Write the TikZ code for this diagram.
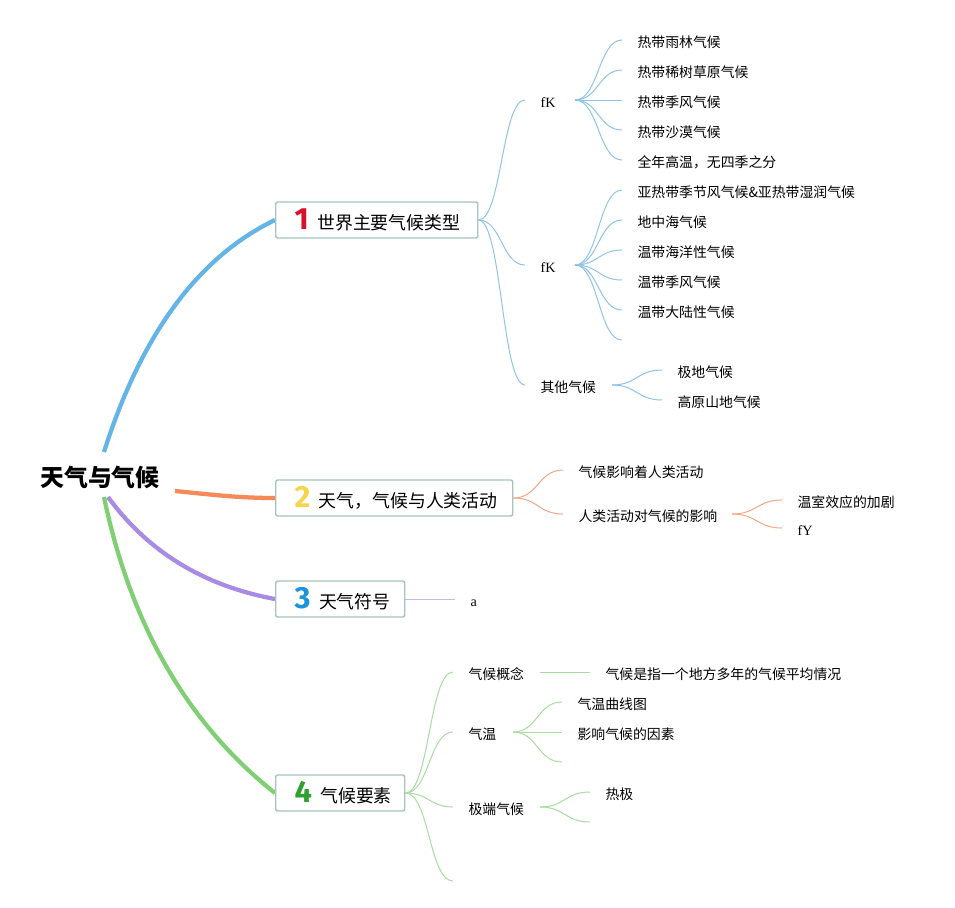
\documentclass[tikz,border=0pt]{standalone}
\usepackage{fontspec}
\setmainfont{Noto Sans CJK SC}
\newfontfamily\latf{Liberation Serif}
\newfontfamily\numf{Fira Sans}
\usetikzlibrary{calc}
\definecolor{cblue}{HTML}{64B5E6}
\definecolor{corange}{HTML}{F5895A}
\definecolor{cpurple}{HTML}{A88BE3}
\definecolor{cgreen}{HTML}{80CF75}
\definecolor{tblue}{HTML}{8FC4EA}
\definecolor{torange}{HTML}{F3A886}
\definecolor{tpurple}{HTML}{C7B7EE}
\definecolor{tgreen}{HTML}{A8DCA0}
\definecolor{dred}{HTML}{D8102A}
\definecolor{dyellow}{HTML}{F7D54A}
\definecolor{dblue}{HTML}{1C94DC}
\definecolor{dgreen}{HTML}{2FA12F}
\definecolor{boxc}{HTML}{A5C6BE}
\newcommand\mydig[2]{\kern2.2pt{\numf\bfseries\fontsize{23pt}{23pt}\selectfont\textcolor{#1}{#2}}\kern6.3pt}
\tikzset{
  sc/.style={to path={.. controls ($(\tikztostart)!0.5!(\tikztostart -| \tikztotarget)$) and ($(\tikztotarget)!0.5!(\tikztotarget -| \tikztostart)$) .. (\tikztotarget)}},
  mainline/.style={line width=3.2pt},
  thinline/.style={line width=0.75pt},
  txt/.style={anchor=west, inner xsep=11.5pt, inner ysep=0pt, text height=10.6pt, text depth=0pt, font=\fontsize{10.4pt}{12pt}\selectfont},
  lat/.style={txt, font=\latf\fontsize{10.6pt}{12pt}\selectfont},
  rootnode/.style={inner sep=0pt, font=\fontsize{17.9pt}{20pt}\selectfont\bfseries},
  mainbox/.style={draw=boxc, line width=1.1pt, rounded corners=1.5pt, fill=white, minimum height=27pt, inner xsep=12pt, inner ysep=0pt, anchor=west, align=left, font=\fontsize{13.4pt}{16pt}\selectfont},
}
\begin{document}
\begin{tikzpicture}[x=0.75pt,y=-0.75pt]
\useasboundingbox[fill=white] (0,0) rectangle (955,907);
% root
\node[rootnode] (root) at (100,477) {天气与气候};
\coordinate (rN) at (104,452);
\coordinate (rE) at (175,491);
\coordinate (rS1) at (104,497);
\coordinate (rS2) at (108,497);
% main branches
\draw[mainline, cblue] (rN) .. controls (141,335) and (198,257) .. (275,220) coordinate (n1a);
\draw[mainline, corange] (rE) .. controls (215,495) and (240,498) .. (275,498) coordinate (n2a);
\draw[mainline, cpurple] (rS2) .. controls (149,553) and (205,586) .. (275,599) coordinate (n3a);
\draw[mainline, cgreen] (rS1) .. controls (131,627) and (189,725) .. (275,793) coordinate (n4a);
% main boxes
\node[mainbox, text width=127.5pt] (n1) at (n1a) {\mydig{dred}{1}世界主要气候类型};
\node[mainbox, text width=153.75pt] (n2) at (n2a) {\mydig{dyellow}{2}天气，气候与人类活动};
\node[mainbox, text width=72.75pt] (n3) at (n3a) {\mydig{dblue}{3}天气符号};
\node[mainbox, text width=72.75pt] (n4) at (n4a) {\mydig{dgreen}{4}气候要素};

% ---- branch 1
\node[lat] (fk1) at (525,100) {fK};
\node[lat] (fk2) at (525,265) {fK};
\node[txt] (qt) at (525,385) {其他气候};
\draw[thinline, tblue] (n1.east) to[sc] (fk1.west);
\draw[thinline, tblue] (n1.east) to[sc] (fk2.west);
\draw[thinline, tblue] (n1.east) to[sc] (qt.west);
\coordinate (fk1o) at (575,100);
\coordinate (fk2o) at (575,265);
\coordinate (qto) at (612,385);
\node[txt] (a1) at (622,40) {热带雨林气候};
\node[txt] (a2) at (622,70) {热带稀树草原气候};
\node[txt] (a3) at (622,100) {热带季风气候};
\node[txt] (a4) at (622,130) {热带沙漠气候};
\node[txt] (a5) at (622,160) {全年高温，无四季之分};
\foreach \n in {a1,a2,a3,a4,a5} \draw[thinline, tblue] (fk1o) to[sc] (\n.west);
\node[txt] (b1) at (622,190) {亚热带季节风气候\&亚热带湿润气候};
\node[txt] (b2) at (622,220) {地中海气候};
\node[txt] (b3) at (622,250) {温带海洋性气候};
\node[txt] (b4) at (622,280) {温带季风气候};
\node[txt] (b5) at (622,310) {温带大陆性气候};
\coordinate (b6) at (622,340);
\foreach \n in {b1.west,b2.west,b3.west,b4.west,b5.west,b6} \draw[thinline, tblue] (fk2o) to[sc] (\n);
\node[txt] (q1) at (662,370) {极地气候};
\node[txt] (q2) at (662,400) {高原山地气候};
\draw[thinline, tblue] (qto) to[sc] (q1.west);
\draw[thinline, tblue] (qto) to[sc] (q2.west);

% ---- branch 2
\node[txt] (h1) at (563,470) {气候影响着人类活动};
\node[txt] (h2) at (563,514) {人类活动对气候的影响};
\draw[thinline, torange] (n2.east) to[sc] (h1.west);
\draw[thinline, torange] (n2.east) to[sc] (h2.west);
\coordinate (h2o) at (732,514);
\node[txt] (h21) at (782,500) {温室效应的加剧};
\node[lat] (h22) at (782,528) {fY};
\draw[thinline, torange] (h2o) to[sc] (h21.west);
\draw[thinline, torange] (h2o) to[sc] (h22.west);

% ---- branch 3
\node[lat] (s1) at (455,599) {a};
\draw[thinline, tpurple] (n3.east) -- (s1.west);

% ---- branch 4
\node[txt] (c1) at (453,672) {气候概念};
\node[txt] (c2) at (453,732) {气温};
\node[txt] (c3) at (453,807) {极端气候};
\coordinate (c4) at (453,881);
\foreach \n in {c1.west,c2.west,c3.west,c4} \draw[thinline, tgreen] (n4.east) to[sc] (\n);
\coordinate (c1o) at (540,672);
\node[txt] (c11) at (590,672) {气候是指一个地方多年的气候平均情况};
\draw[thinline, tgreen] (c1o) -- (c11.west);
\coordinate (c2o) at (513,732);
\node[txt] (c21) at (562,702) {气温曲线图};
\node[txt] (c22) at (562,732) {影响气候的因素};
\coordinate (c23) at (562,762);
\foreach \n in {c21.west,c22.west,c23} \draw[thinline, tgreen] (c2o) to[sc] (\n);
\coordinate (c3o) at (540,807);
\node[txt] (c31) at (590,792) {热极};
\coordinate (c32) at (590,822);
\draw[thinline, tgreen] (c3o) to[sc] (c31.west);
\draw[thinline, tgreen] (c3o) to[sc] (c32);
\end{tikzpicture}
\end{document}
